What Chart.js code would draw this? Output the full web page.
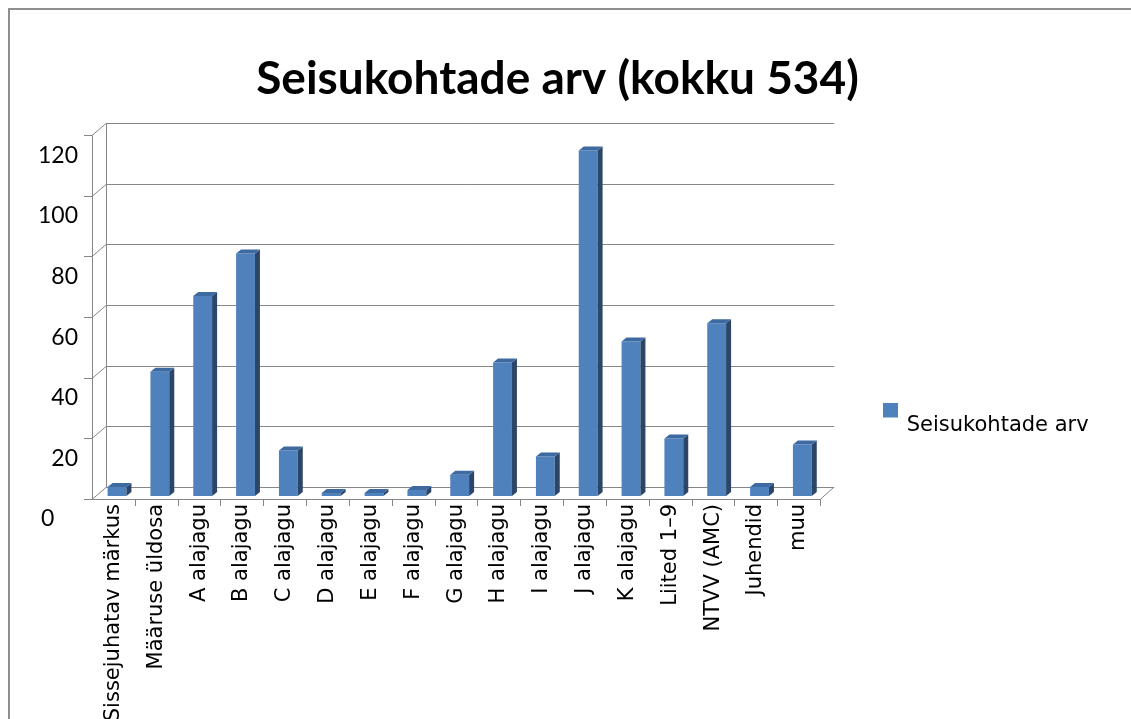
<!DOCTYPE html>
<html>
<head>
<meta charset="utf-8">
<title>Seisukohtade arv</title>
<script src="https://cdn.jsdelivr.net/npm/chart.js@4"></script>
<style>
    body { margin: 0; background: #fff; overflow: hidden; }
    #frame {
        position: absolute; left: 8px; top: 8px;
        width: 1300px; height: 900px;
        border: 2px solid #8e8e8e;
    }
    #chart { position: absolute; left: 0; top: 0; }
</style>
</head>
<body>
<div id="frame"></div>
<canvas id="chart" width="1131" height="719"></canvas>
<script>
// Chart data
const categories = ['Sissejuhatav märkus', 'Määruse üldosa', 'A alajagu', 'B alajagu', 'C alajagu',
    'D alajagu', 'E alajagu', 'F alajagu', 'G alajagu', 'H alajagu', 'I alajagu', 'J alajagu',
    'K alajagu', 'Liited 1–9', 'NTVV (AMC)', 'Juhendid', 'muu'];
const counts = [3, 41, 66, 80, 15, 1, 1, 2, 7, 44, 13, 114, 51, 19, 57, 3, 17];
const seriesName = 'Seisukohtade arv';
const chartTitle = 'Seisukohtade arv (kokku 534)';
const yMin = 0;
const yMax = 120;
const yStep = 20;

// 3D look: offsets of the front plane and back wall relative to the bar plane
const FRONT_DX = -3.6, FRONT_DY = 3;
const BACK_DX = 10.4, BACK_DY = -9;
const BAR_DX = 5, BAR_DY = -4;
const GRID_COLOR = '#868686';
const BAR_FRONT = '#4f81bd';
const BAR_SIDE = '#2b4669';
const BAR_TOP = '#3d6aa1';

function px(v) {
    return Math.round(v) + 0.5;
}

// Walls, floor and axis lines drawn behind the bars
const wallsPlugin = {
    id: 'walls',
    beforeDatasetsDraw(chart) {
        const { ctx, chartArea: a, scales: { x, y } } = chart;
        ctx.save();
        ctx.strokeStyle = GRID_COLOR;
        ctx.lineWidth = 1;
        ctx.beginPath();
        y.ticks.forEach(t => {
            const py = y.getPixelForValue(t.value);
            // back wall gridline
            ctx.moveTo(a.left + BACK_DX, px(py + BACK_DY));
            ctx.lineTo(a.right + BACK_DX, px(py + BACK_DY));
            // side wall diagonal
            ctx.moveTo(a.left + FRONT_DX, px(py + FRONT_DY));
            ctx.lineTo(a.left + BACK_DX, px(py + BACK_DY));
            // tick mark
            ctx.moveTo(a.left + FRONT_DX - 8, px(py + FRONT_DY));
            ctx.lineTo(a.left + FRONT_DX, px(py + FRONT_DY));
        });
        // back wall left edge
        ctx.moveTo(px(a.left + BACK_DX), a.top + BACK_DY);
        ctx.lineTo(px(a.left + BACK_DX), a.bottom + BACK_DY);
        // front value axis
        ctx.moveTo(px(a.left + FRONT_DX), a.top + FRONT_DY);
        ctx.lineTo(px(a.left + FRONT_DX), a.bottom + FRONT_DY);
        // front floor edge and right floor diagonal
        ctx.moveTo(a.left + FRONT_DX, px(a.bottom + FRONT_DY));
        ctx.lineTo(a.right + FRONT_DX, px(a.bottom + FRONT_DY));
        ctx.lineTo(a.right + BACK_DX, a.bottom + BACK_DY);
        // category tick marks
        const step = x.getPixelForValue(1) - x.getPixelForValue(0);
        for (let i = 1; i <= categories.length; i++) {
            const bx = px(x.getPixelForValue(i) - step / 2 + FRONT_DX);
            ctx.moveTo(bx, a.bottom + FRONT_DY);
            ctx.lineTo(bx, a.bottom + FRONT_DY + 7);
        }
        ctx.stroke();
        ctx.restore();
    },
    // side and top faces of each bar
    afterDatasetsDraw(chart) {
        const ctx = chart.ctx;
        ctx.save();
        chart.getDatasetMeta(0).data.forEach(bar => {
            const { x, y, base, width } = bar.getProps(['x', 'y', 'base', 'width'], true);
            const l = x - width / 2;
            const r = x + width / 2;
            ctx.fillStyle = BAR_SIDE;
            ctx.beginPath();
            ctx.moveTo(r, y);
            ctx.lineTo(r + BAR_DX, y + BAR_DY);
            ctx.lineTo(r + BAR_DX, base + BAR_DY);
            ctx.lineTo(r, base);
            ctx.closePath();
            ctx.fill();
            ctx.fillStyle = BAR_TOP;
            ctx.beginPath();
            ctx.moveTo(l, y);
            ctx.lineTo(l + BAR_DX, y + BAR_DY);
            ctx.lineTo(r + BAR_DX, y + BAR_DY);
            ctx.lineTo(r, y);
            ctx.closePath();
            ctx.fill();
        });
        ctx.restore();
    }
};

// Legend marker: square sitting above the text line
function legendMarker() {
    const c = document.createElement('canvas');
    c.width = 15;
    c.height = 46;
    const g = c.getContext('2d');
    g.fillStyle = BAR_FRONT;
    g.fillRect(0, 0, 15, 15);
    return c;
}

function createChart() {
    const ctx = document.getElementById('chart').getContext('2d');
    new Chart(ctx, {
        type: 'bar',
        data: {
            labels: categories,
            datasets: [{
                label: seriesName,
                data: counts,
                backgroundColor: BAR_FRONT,
                borderWidth: 0,
                barPercentage: 0.44,
                categoryPercentage: 1
            }]
        },
        options: {
            responsive: false,
            devicePixelRatio: 1,
            animation: false,
            layout: {
                padding: { left: 25, right: 41, top: 0, bottom: 0 }
            },
            plugins: {
                title: {
                    display: true,
                    text: chartTitle,
                    color: '#000',
                    font: { family: 'Lato', size: 46, weight: 'bold', lineHeight: 1.2 },
                    padding: { top: 52, bottom: 25 }
                },
                legend: {
                    position: 'right',
                    align: 'end',
                    fullSize: false,
                    labels: {
                        color: '#000',
                        font: { family: 'DejaVu Sans', size: 21 },
                        usePointStyle: true,
                        pointStyle: legendMarker(),
                        pointStyleWidth: 12.5,
                        padding: 60
                    }
                },
                tooltip: { enabled: false }
            },
            scales: {
                x: {
                    grid: { display: false, drawTicks: false },
                    border: { display: false },
                    ticks: {
                        autoSkip: false,
                        minRotation: 90,
                        maxRotation: 90,
                        padding: 8,
                        labelOffset: FRONT_DX,
                        color: '#000',
                        font: { family: 'DejaVu Sans', size: 21 }
                    },
                    afterFit(scale) {
                        scale.height = 223;
                    }
                },
                y: {
                    min: yMin,
                    max: yMax,
                    grid: { display: false, drawTicks: false },
                    border: { display: false },
                    ticks: {
                        stepSize: yStep,
                        padding: 17.6,
                        labelOffset: 23,
                        color: '#000',
                        font: { family: 'Lato', size: 23 },
                        // the zero label sits further left in the original
                        callback: v => (v === 0 ? '0    ' : v)
                    },
                    afterFit(scale) {
                        scale.width = 70.6;
                    }
                }
            }
        },
        plugins: [wallsPlugin]
    });
}

document.addEventListener('DOMContentLoaded', createChart);
</script>
</body>
</html>
